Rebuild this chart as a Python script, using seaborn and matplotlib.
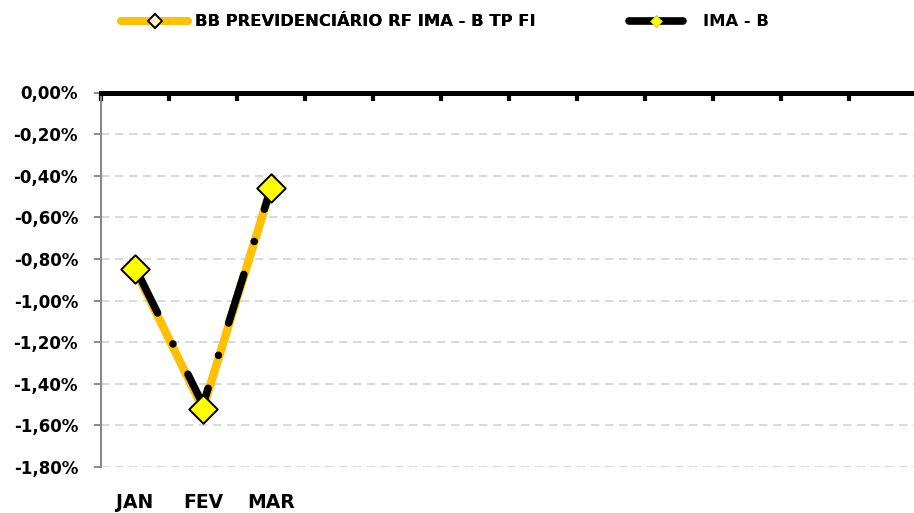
import matplotlib
matplotlib.use("Agg")
import matplotlib.pyplot as plt
from matplotlib.lines import Line2D
from matplotlib.ticker import FuncFormatter, FixedLocator
import seaborn as sns
import pandas as pd

months = ["JAN", "FEV", "MAR", "", "", "", "", "", "", "", "", ""]
fund_values = [-0.85, -1.52, -0.46]
imab_values = [-0.84, -1.50, -0.46]
series_names = ["BB PREVIDENCIÁRIO RF IMA - B TP FI", "IMA - B"]
yticks = [0.0, -0.2, -0.4, -0.6, -0.8, -1.0, -1.2, -1.4, -1.6, -1.8]

sns.set_theme(style="white")
plt.rcParams["font.family"] = ["DejaVu Sans"]
plt.rcParams["font.weight"] = "bold"
plt.rcParams["text.color"] = "black"

fig = plt.figure(figsize=(9.14, 5.13), dpi=100)
ax = fig.add_axes([101 / 914, 1 - 467 / 513, 1 - 101 / 914 + 0.003, (467 - 92.5) / 513])

df_fund = pd.DataFrame({"x": range(len(fund_values)), "y": fund_values})
df_imab = pd.DataFrame({"x": range(len(imab_values)), "y": imab_values})

sns.lineplot(data=df_fund, x="x", y="y", ax=ax, color="#FFC000", linewidth=6,
             zorder=3)
sns.lineplot(data=df_imab, x="x", y="y", ax=ax, color="black", linewidth=5.4,
             zorder=4)
black_line = ax.lines[-1]
black_line.set_dashes((6.8, 4.6, 0.01, 4.5))
black_line.set_dash_capstyle("round")
sns.scatterplot(data=df_fund, x="x", y="y", ax=ax, marker="D", s=210,
                color="#FFFF00", edgecolor="black", linewidth=1.4, zorder=5)

ax.set_xlim(-0.5, len(months) - 0.5)
ax.set_ylim(-1.8, 0.0)
ax.set_yticks(yticks)
ax.yaxis.set_major_formatter(FuncFormatter(lambda v, p: f"{v:.2f}%".replace(".", ",")))
ax.yaxis.grid(True, color="#D9D9D9", linestyle=(0, (4.3, 2.9)), linewidth=1.4)
ax.xaxis.grid(False)

ax.set_xticks(range(len(months)))
ax.set_xticklabels(months, fontsize=13.5, fontweight="bold")
ax.xaxis.set_minor_locator(FixedLocator([i - 0.5 for i in range(len(months) + 1)]))
ax.tick_params(axis="x", which="major", length=0, pad=18.5, bottom=True, labelbottom=True,
               labelcolor="black")
ax.tick_params(axis="x", which="minor", top=True, bottom=False, direction="in",
               length=5.4, width=3, color="black")
ax.tick_params(axis="y", which="major", left=True, direction="out", length=5,
               width=1.4, color="#898989", labelsize=12, pad=11.5, labelcolor="black")
for lbl in ax.get_yticklabels():
    lbl.set_fontweight("bold")

ax.set_xlabel("")
ax.set_ylabel("")
for side in ["bottom", "right"]:
    ax.spines[side].set_visible(False)
ax.spines["top"].set_color("black")
ax.spines["top"].set_linewidth(3.6)
ax.spines["top"].set_zorder(6)
ax.spines["left"].set_color("#898989")
ax.spines["left"].set_linewidth(1.5)
ax.set_facecolor("white")

h_fund = Line2D([0], [0], color="#FFC000", linewidth=5.5, marker="D", markersize=7,
                markerfacecolor="#FFF2CC", markeredgecolor="black", markeredgewidth=1.3,
                solid_capstyle="round")
h_imab = Line2D([0], [0], color="black", linewidth=5.5, marker="D", markersize=6.5,
                markerfacecolor="#FFFF00", markeredgecolor="#C8C800", markeredgewidth=0.6,
                solid_capstyle="round")
leg_props = {"weight": "bold", "size": 11.8}
leg1 = fig.legend([h_fund], [series_names[0]], loc="center left",
                  bbox_to_anchor=(121 / 914, 1 - 22 / 513), frameon=False, borderpad=0,
                  borderaxespad=0, handlelength=4.1, handletextpad=0.43, prop=leg_props,
                  labelcolor="black")
fig.add_artist(leg1)
fig.legend([h_imab], [series_names[1]], loc="center left",
           bbox_to_anchor=(628.5 / 914, 1 - 22 / 513), frameon=False, borderpad=0,
           borderaxespad=0, handlelength=3.35, handletextpad=1.19, prop=leg_props,
           labelcolor="black")

fig.savefig("out.png", dpi=100, facecolor="white")
